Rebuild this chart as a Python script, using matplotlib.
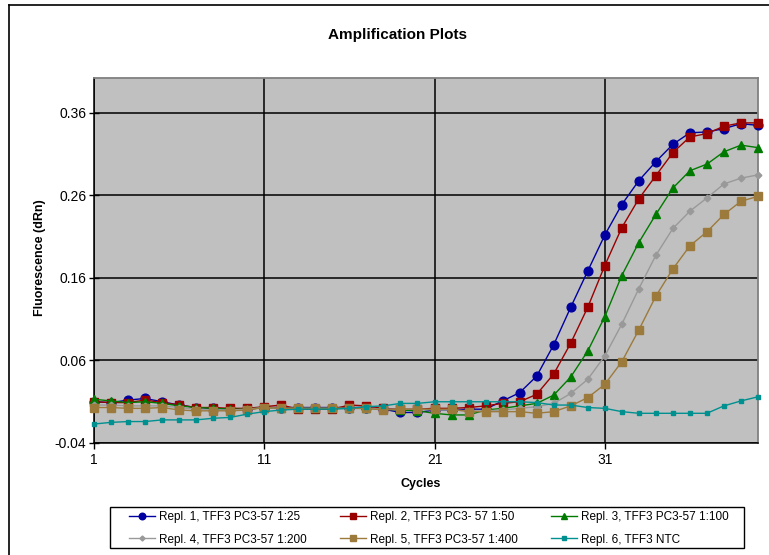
import numpy as np
import matplotlib.pyplot as plt
from matplotlib.lines import Line2D
from matplotlib.patches import Rectangle

plt.rcParams['font.family'] = ['Liberation Sans', 'DejaVu Sans']

cycles = np.arange(1, 41)

# dRn per cycle for each well
repl1 = [0.010, 0.009, 0.012, 0.014, 0.010, 0.006, 0.003, 0.002, 0.001, 0.001,
         0.003, 0.003, 0.003, 0.003, 0.003, 0.003, 0.003, 0.001, -0.003, -0.003,
         0.000, 0.000, 0.001, 0.001, 0.011, 0.021, 0.041, 0.079, 0.1245, 0.1685,
         0.212, 0.249, 0.278, 0.301, 0.322, 0.336, 0.337, 0.341, 0.347, 0.345]
repl2 = [0.010, 0.009, 0.009, 0.012, 0.009, 0.006, 0.003, 0.003, 0.002, 0.002,
         0.004, 0.006, 0.001, 0.001, 0.001, 0.006, 0.005, 0.002, 0.001, 0.001,
         0.002, 0.002, 0.003, 0.005, 0.008, 0.010, 0.019, 0.0436, 0.081, 0.1245,
         0.175, 0.221, 0.256, 0.284, 0.312, 0.331, 0.335, 0.344, 0.348, 0.348]
repl3 = [0.013, 0.011, 0.009, 0.010, 0.008, 0.005, 0.003, 0.002, 0.001, 0.001,
         0.003, 0.002, 0.002, 0.002, 0.002, 0.002, 0.002, 0.001, 0.000, -0.001,
         -0.004, -0.006, -0.006, 0.000, 0.002, 0.005, 0.008, 0.018, 0.040, 0.0715,
         0.113, 0.163, 0.203, 0.237, 0.269, 0.290, 0.298, 0.313, 0.321, 0.318]
repl4 = [0.006, 0.006, 0.005, 0.005, 0.005, 0.003, 0.001, 0.000, 0.000, 0.001,
         0.003, 0.002, 0.002, 0.002, 0.002, 0.002, 0.002, 0.001, 0.001, 0.001,
         0.000, 0.000, -0.001, -0.001, 0.000, 0.002, 0.004, 0.008, 0.020, 0.0372,
         0.0655, 0.104, 0.147, 0.1875, 0.220, 0.241, 0.257, 0.274, 0.281, 0.285]
repl5 = [0.003, 0.003, 0.002, 0.002, 0.003, 0.000, -0.001, -0.001, -0.001, 0.000,
         0.003, 0.002, 0.002, 0.002, 0.002, 0.002, 0.002, 0.000, 0.001, 0.001,
         0.001, 0.001, -0.002, -0.002, -0.002, -0.002, -0.004, -0.002, 0.005, 0.015,
         0.031, 0.0585, 0.097, 0.138, 0.171, 0.199, 0.216, 0.237, 0.253, 0.259]
repl6 = [-0.017, -0.015, -0.014, -0.014, -0.012, -0.012, -0.012, -0.010, -0.009, -0.005,
         -0.002, 0.000, 0.001, 0.001, 0.001, 0.002, 0.004, 0.005, 0.008, 0.008,
         0.010, 0.010, 0.010, 0.010, 0.010, 0.010, 0.009, 0.006, 0.006, 0.003,
         0.002, -0.002, -0.004, -0.004, -0.004, -0.004, -0.004, 0.005, 0.011, 0.016]

labels = ['Repl. 1, TFF3 PC3-57 1:25', 'Repl. 2, TFF3 PC3- 57 1:50',
          'Repl. 3, TFF3 PC3-57 1:100', 'Repl. 4, TFF3 PC3-57 1:200',
          'Repl. 5, TFF3 PC3-57 1:400', 'Repl. 6, TFF3 NTC']
series = [repl1, repl2, repl3, repl4, repl5, repl6]
colors = ['#0000A0', '#990000', '#007A00', '#999999', '#9C7A3C', '#009090']
markers = ['o', 's', '^', 'D', 's', 's']
msizes = [6.3, 6.3, 6.3, 3.4, 5.8, 3.0]

fig = plt.figure(figsize=(7.69, 5.55), dpi=100)
ax = fig.add_axes([94 / 769, 112 / 555, 664 / 769, 365 / 555])
ax.set_facecolor('#C0C0C0')

handles = []
for y, lab, c, m, ms in zip(series, labels, colors, markers, msizes):
    h, = ax.plot(cycles, y, color=c, marker=m, markersize=ms, lw=1.0,
                 markeredgecolor=c, markerfacecolor=c, label=lab, zorder=3,
                 clip_on=False)
    handles.append(h)

ax.set_xlim(1, 40)
ax.set_ylim(-0.04, 0.4024)
ax.set_xticks([1, 11, 21, 31])
ax.set_yticks([-0.04, 0.06, 0.16, 0.26, 0.36])
ax.set_yticklabels(['-0.04', '0.06', '0.16', '0.26', '0.36'])
ax.grid(True, color='black', lw=1.1, zorder=1)
ax.set_axisbelow(True)
ax.tick_params(axis='y', direction='inout', length=7, width=1, labelsize=10, pad=2)
ax.tick_params(axis='x', direction='out', length=4, width=1, labelsize=10, pad=3)

for s in ['left', 'bottom']:
    ax.spines[s].set_color('black')
    ax.spines[s].set_linewidth(1.1)
for s in ['top', 'right']:
    ax.spines[s].set_color('#808080')
    ax.spines[s].set_linewidth(1.3)

fig.text(398 / 769, 1 - 35 / 555, 'Amplification Plots', ha='center', va='center',
         fontsize=11, fontweight='bold')
fig.text(421 / 769, 1 - 484 / 555, 'Cycles', ha='center', va='center',
         fontsize=9, fontweight='bold')
fig.text(40 / 769, 1 - 258 / 555, 'Fluorescence (dRn)', ha='center', va='center',
         rotation=90, fontsize=9, fontweight='bold')

# legend is filled row by row: 1 2 3 / 4 5 6
order = [0, 3, 1, 4, 2, 5]
leg = fig.legend([handles[i] for i in order], [labels[i] for i in order],
                 ncol=3, loc='center', bbox_to_anchor=(429 / 769, 1 - 528.5 / 555),
                 fontsize=8.5, frameon=False,
                 handlelength=2.2, handletextpad=0.35, columnspacing=2.8,
                 labelspacing=0.85, borderpad=0.2, markerscale=0.75)
fig.add_artist(Rectangle((110 / 769, 1 - 548 / 555), 634 / 769, 41 / 555,
                         transform=fig.transFigure, fill=False,
                         edgecolor='black', lw=1.0))

# chart area frame (left and top edges)
fig.add_artist(Line2D([9 / 769, 9 / 769], [0, 1 - 5 / 555], color='black', lw=1.2,
                      transform=fig.transFigure))
fig.add_artist(Line2D([9 / 769, 1], [1 - 5 / 555, 1 - 5 / 555], color='black', lw=1.2,
                      transform=fig.transFigure))

fig.savefig('out.png', dpi=100)
